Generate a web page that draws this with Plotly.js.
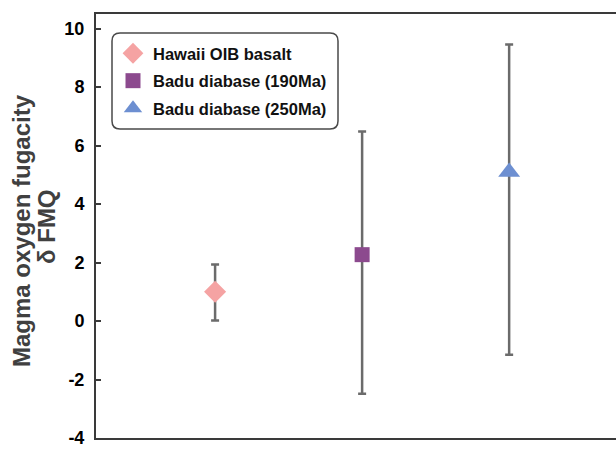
<!DOCTYPE html>
<html><head><meta charset="utf-8">
<script src="https://cdn.plot.ly/plotly-3.0.1.min.js"></script>
<style>html,body{margin:0;padding:0;overflow:hidden;background:#fff}</style>
</head><body><div id="chart" style="width:640px;height:450px"></div>
<script>
// ---- data ----
const seriesNames = ["Hawaii OIB basalt", "Badu diabase (190Ma)", "Badu diabase (250Ma)"];
const xPositions = [1, 2, 3];
const fmqValues = [1.0, 2.27, 5.1];
const fmqUpper = [1.93, 6.48, 9.46];
const fmqLower = [0.02, -2.49, -1.15];
const yTickValues = [-4, -2, 0, 2, 4, 6, 8, 10];
const yTickLabels = ["-4", "-2", "0", "2", "4", "6", "8", "10"];
const titleLine1 = "Magma oxygen fugacity";
const titleLine2 = "δ FMQ";

// ---- styles ----
const markerSymbols = ["diamond", "square", "triangle-up"];
const markerColors = ["#F5A3A3", "#8C4A8E", "#6D8FD1"];
const markerSizes = [17, 15, 19];

const W = 640, H = 450, ML = 96, MR = 0, MT = 14, MB = 12;
const PW = W - ML - MR, PH = H - MT - MB;
const px2x = p => (p - ML) / PW;
const px2y = p => (H - MB - p) / PH;

const traces = seriesNames.map((name, i) => ({
  type: "scatter", mode: "markers", name: name,
  legendgroup: "g" + i,
  x: [xPositions[i]], y: [fmqValues[i]],
  marker: {symbol: markerSymbols[i], color: markerColors[i], size: markerSizes[i], line: {width: 0}},
  error_y: {
    type: "data", symmetric: false,
    array: [fmqUpper[i] - fmqValues[i]],
    arrayminus: [fmqValues[i] - fmqLower[i]],
    color: "#6b6b6b", thickness: 2.5, width: 4
  }
}));

// rounded legend box
const bx0 = px2x(112), bx1 = px2x(338), by0 = px2y(33), by1 = px2y(129);
const rx = 8 / PW, ry = 8 / PH;
const boxPath = `M ${bx0 + rx},${by0} L ${bx1 - rx},${by0} Q ${bx1},${by0} ${bx1},${by0 - ry} ` +
  `L ${bx1},${by1 + ry} Q ${bx1},${by1} ${bx1 - rx},${by1} L ${bx0 + rx},${by1} ` +
  `Q ${bx0},${by1} ${bx0},${by1 + ry} L ${bx0},${by0 - ry} Q ${bx0},${by0} ${bx0 + rx},${by0} Z`;

const layout = {
  width: W, height: H,
  margin: {l: ML, r: MR, t: MT, b: MB},
  paper_bgcolor: "#fff", plot_bgcolor: "#fff",
  font: {family: "Liberation Sans, Arial, sans-serif", color: "#000"},
  showlegend: true,
  legend: {
    x: px2x(113), y: px2y(36), xanchor: "left", yanchor: "top",
    bgcolor: "rgba(0,0,0,0)", borderwidth: 0,
    font: {size: 16.5, family: "Liberation Sans, Arial, sans-serif", color: "#111", weight: "bold"},
    tracegroupgap: 3, traceorder: "grouped"
  },
  xaxis: {
    range: [0.19, 3.89], showgrid: false, zeroline: false,
    showticklabels: false, ticks: "",
    showline: true, linecolor: "#3a3a3a", linewidth: 2, mirror: true
  },
  yaxis: {
    range: [-4, 10.5], showgrid: false, zeroline: false,
    tickmode: "array", tickvals: yTickValues, ticktext: yTickLabels,
    ticks: "inside", ticklen: 5, tickwidth: 2, tickcolor: "#3a3a3a",
    tickfont: {size: 18, color: "#000", weight: "bold"},
    ticklabelstandoff: 6,
    showline: true, linecolor: "#3a3a3a", linewidth: 2, mirror: true
  },
  shapes: [{
    type: "path", xref: "paper", yref: "paper", path: boxPath,
    line: {color: "#4a4a4a", width: 1.5}, fillcolor: "rgba(0,0,0,0)", layer: "above"
  }],
  annotations: [
    {text: titleLine1, xref: "paper", yref: "paper", x: px2x(21), y: px2y(231),
     xanchor: "center", yanchor: "middle", textangle: -90, showarrow: false,
     font: {size: 24, color: "#404040", weight: "bold"}},
    {text: titleLine2, xref: "paper", yref: "paper", x: px2x(46), y: px2y(227),
     xanchor: "center", yanchor: "middle", textangle: -90, showarrow: false,
     font: {size: 24, color: "#404040", weight: "bold"}}
  ]
};

Plotly.newPlot("chart", traces, layout, {staticPlot: true, displayModeBar: false});
</script></body></html>
